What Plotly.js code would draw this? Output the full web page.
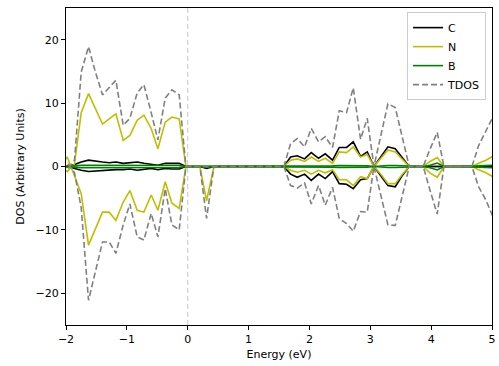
<!DOCTYPE html>
<html>
<head>
<meta charset="utf-8">
<script src="https://cdn.plot.ly/plotly-3.0.1.min.js"></script>
<style>html,body{margin:0;padding:0;background:#fff;}#chart{width:499px;height:366px;}</style>
</head>
<body>
<div id="chart"></div>
<script>
// Energy grid (eV)
var energy = [-2.09,-1.98,-1.86,-1.75,-1.63,-1.52,-1.40,-1.29,-1.18,-1.06,-0.95,-0.83,-0.72,-0.60,-0.49,-0.37,-0.26,-0.14,-0.03,
  0.09,0.20,0.31,0.43,
  0.54,0.66,0.77,0.89,1.00,1.12,1.23,1.35,1.46,
  1.58,1.69,1.80,1.92,2.03,2.15,2.26,2.38,2.49,2.61,2.72,2.84,2.95,3.06,3.18,3.29,3.41,3.52,3.64,
  3.75,3.87,3.98,4.10,4.21,4.32,4.44,4.55,4.67,
  4.78,4.90,5.01,5.13];

// C (spin up / spin down)
var cUp = [0,0,0.3,0.7,1.0,0.8,0.7,0.6,0.7,0.5,0.6,0.7,0.5,0.3,0.2,0.5,0.5,0.5,0,
  0,0,0,0,
  0,0,0,0,0,0,0,0,0,
  0,1.5,1.7,1.2,2.2,1.3,2.0,1.0,3.0,3.0,3.9,1.6,2.3,0,1.6,3.1,2.8,1.4,0,
  0,0,0,0,0,0,0,0,0,
  0,0,0,0];
var cDn = [0,0,-0.3,-0.6,-0.8,-0.7,-0.7,-0.6,-0.5,-0.5,-0.4,-0.6,-0.4,-0.3,-0.5,-0.3,-0.4,-0.4,0,
  0,0,-0.3,0,
  0,0,0,0,0,0,0,0,0,
  0,-1.2,-1.7,-1.2,-2.2,-1.2,-1.9,-0.8,-2.7,-2.8,-3.5,-2.1,-1.9,0,-1.6,-3.0,-3.2,-1.5,0,
  0,0,0,0,0,0,0,0,0,
  0,0,0,0];

// N
var nUp = [0,-0.8,0.4,8.5,11.5,9.2,6.7,7.5,8.3,4.1,4.9,7.3,8.1,6.0,2.8,7.0,7.8,7.5,0,
  0,0,0,0,
  0,0,0,0,0,0,0,0,0,
  0,1.0,1.2,0.8,1.5,0.8,1.3,0.5,2.3,2.2,3.1,1.5,1.9,0,1.3,2.6,2.3,1.2,0,
  0,0,0.8,1.4,0,0,0,0,0,
  0.5,1.0,1.6,2.2];
var nDn = [0,1.5,-1.5,-4.3,-12.4,-9.8,-7.2,-7.2,-8.5,-5.6,-3.8,-6.9,-7.2,-4.5,-6.9,-2.4,-5.8,-6.6,0,
  0,0,-5.4,0,
  0,0,0,0,0,0,0,0,0,
  0,-0.6,-0.9,-0.6,-1.2,-0.6,-1.0,-0.5,-2.1,-2.1,-3.0,-1.6,-1.9,0,-1.3,-2.7,-2.7,-1.3,0,
  0,0,-1.0,-1.7,0,0,0,0,0,
  -0.5,-1.0,-1.6,-2.2];

// B
var bUp = [0,0,0.1,0.2,0.2,0.2,0.15,0.15,0.15,0.15,0.1,0.15,0.15,0.1,0.1,0.15,0.15,0.15,0,
  0,0,0,0,
  0,0,0,0,0,0,0,0,0,
  0,0.1,0.1,0.1,0.1,0.1,0.1,0.1,0.15,0.15,0.15,0.1,0.1,0,0.1,0.15,0.15,0.1,0,
  0,0,0.2,0.55,0,0,0,0,0,
  0.1,0.15,0.2,0.25];
var bDn = [0,0,-0.1,-0.2,-0.2,-0.2,-0.15,-0.15,-0.15,-0.15,-0.1,-0.15,-0.15,-0.1,-0.1,-0.15,-0.15,-0.15,0,
  0,0,-0.1,0,
  0,0,0,0,0,0,0,0,0,
  0,-0.1,-0.1,-0.1,-0.1,-0.1,-0.1,-0.1,-0.15,-0.15,-0.15,-0.1,-0.1,0,-0.1,-0.15,-0.15,-0.1,0,
  0,0,-0.2,-0.55,0,0,0,0,0,
  -0.1,-0.15,-0.2,-0.25];

// Total DOS
var tdosUp = [0,-0.5,1.0,14.9,18.9,15.0,11.3,12.4,13.6,6.5,7.6,11.6,12.9,8.5,4.2,10.8,12.1,11.3,0,
  0,0,0,0,
  0,0,0,0,0,0,0,0,0,
  0,3.6,4.4,3.1,6.0,3.9,4.7,3.0,8.8,8.5,12.4,4.3,7.6,0,5.0,9.9,9.3,4.6,0,
  0,0,2.7,5.4,0,0,0,0,0,
  3.3,5.6,7.9,10.0];
var tdosDn = [0,0.6,-1.0,-6.5,-21.1,-16.5,-11.9,-11.9,-13.7,-9.2,-5.9,-11.1,-11.6,-7.4,-11.1,-3.5,-9.2,-10.0,0,
  0,0,-8.2,0,
  0,0,0,0,0,0,0,0,0,
  0,-3.0,-3.4,-2.6,-5.9,-3.0,-6.1,-3.3,-8.2,-9.0,-10.2,-7.1,-7.2,0,-4.6,-9.2,-9.3,-4.6,0,
  0,0,-3.7,-7.5,0,0,0,0,0,
  -3.2,-5.3,-7.8,-10.5];

var xTicks = [-2,-1,0,1,2,3,4,5];
var yTicks = [-20,-10,0,10,20];

var series = [
  {name:'C', up:cUp, dn:cDn, color:'#000000', dash:'solid'},
  {name:'N', up:nUp, dn:nDn, color:'#bfbf00', dash:'solid'},
  {name:'B', up:bUp, dn:bDn, color:'#008000', dash:'solid'},
  {name:'TDOS', up:tdosUp, dn:tdosDn, color:'#808080', dash:'6px,3px'}
];

var traces = [];
series.forEach(function(s){
  traces.push({x:energy, y:s.up, type:'scatter', mode:'lines', name:s.name,
    line:{color:s.color, width:1.6, dash:s.dash}, showlegend:true});
  traces.push({x:energy, y:s.dn, type:'scatter', mode:'lines', name:s.name,
    line:{color:s.color, width:1.6, dash:s.dash}, showlegend:false});
});

var font = {family:'DejaVu Sans, sans-serif', size:11, color:'#000'};
var layout = {
  width:499, height:366,
  margin:{l:66, r:7, t:8, b:41},
  paper_bgcolor:'#fff', plot_bgcolor:'#fff',
  font:font,
  showlegend:true,
  legend:{x:0.986, y:0.987, xanchor:'right', yanchor:'top', bgcolor:'#fff',
    bordercolor:'#cccccc', borderwidth:1, font:font, tracegroupgap:0, itemwidth:30},
  xaxis:{range:[-2,5], tickvals:xTicks, ticks:'outside', ticklen:4, tickcolor:'#000',
    showline:true, mirror:true, linecolor:'#000', linewidth:1, showgrid:false, zeroline:false,
    tickfont:font, title:{text:'Energy (eV)', font:font, standoff:5}},
  yaxis:{range:[-25,25], tickvals:yTicks, ticks:'outside', ticklen:4, tickcolor:'#000',
    showline:true, mirror:true, linecolor:'#000', linewidth:1, showgrid:false, zeroline:false,
    tickfont:font, title:{text:'DOS (Arbitrary Units)', font:font, standoff:8}},
  shapes:[{type:'line', xref:'x', yref:'paper', x0:0, x1:0, y0:0, y1:1,
    line:{color:'#c8c8c8', width:1, dash:'5px,3px'}, layer:'below'}]
};

Plotly.newPlot('chart', traces, layout, {displayModeBar:false, staticPlot:true});
</script>
</body>
</html>
